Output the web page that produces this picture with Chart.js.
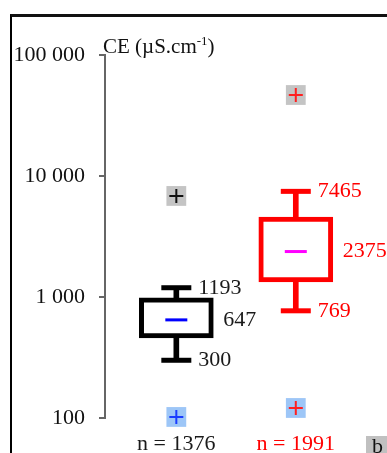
<!DOCTYPE html>
<html>
<head>
<meta charset="utf-8">
<script src="https://cdn.jsdelivr.net/npm/chart.js@4"></script>
<style>
  body { margin: 0; background: #fff; }
  .wrap { position: relative; width: 387px; height: 453px; overflow: hidden; }
  .frame { position: absolute; left: 10px; top: 14px; width: 400px; height: 460px;
           border-left: 2px solid #000; border-top: 3px solid #111; }
  canvas { position: absolute; left: 0; top: 0; }
  .ytitle { position: absolute; left: 103px; top: 30px; font: 21px "Liberation Serif", serif;
            line-height: 21px; color: #111; white-space: nowrap; }
  .ytitle span { font-size: 13px; vertical-align: 8px; }
  .panel { position: absolute; left: 366px; top: 436px; width: 30px; height: 20px;
           background: #c0c0c0; font: 22px "Liberation Serif", serif; line-height: 20px;
           padding-left: 6px; color: #111; }
</style>
</head>
<body>
<div class="wrap">
  <div class="frame"></div>
  <canvas class="js-chart" width="387" height="453"></canvas>
  <div class="ytitle">CE (µS.cm<span>-1</span>)</div>
  <div class="panel">b</div>
</div>
<script>
const ctx = document.querySelector('.js-chart').getContext('2d');
const FONT = '"Liberation Serif", serif';

const groups = ['n = 1376', 'n = 1991'];
const groupX = [1, 2];
const mins = [300, 769];
const q1s = [458, 1330];
const medians = [647, 2375];
const q3s = [982, 4585];
const maxs = [1193, 7465];
const highOutliers = [6840, 46700];
const lowOutliers = [102, 121];
const yTicks = [100, 1000, 10000, 100000];

const groupColors = ['#000000', '#ff0000'];
const labelColors = ['#1a1a1a', '#ff0000'];
const medianColors = ['#0000ff', '#ff00ff'];

function points(values) {
    return values.map((y, i) => ({ x: groupX[i], y }));
}

function formatTick(v) {
    return String(v).replace(/\B(?=(\d{3})+(?!\d))/g, ' ');
}

const valueLabels = {
    id: 'valueLabels',
    afterDatasetsDraw(chart) {
        const { x, y } = chart.scales;
        const c = chart.ctx;
        c.save();
        c.font = '22px ' + FONT;
        c.textAlign = 'left';
        c.textBaseline = 'middle';
        groupX.forEach((gx, i) => {
            const px = x.getPixelForValue(gx);
            c.fillStyle = labelColors[i];
            c.fillText(maxs[i], px + 22, y.getPixelForValue(maxs[i]));
            c.fillText(medians[i], px + 47, y.getPixelForValue(medians[i]));
            c.fillText(mins[i], px + 22, y.getPixelForValue(mins[i]));
        });
        c.restore();
    }
};

new Chart(ctx, {
    type: 'bar',
    data: {
        datasets: [
            {
                type: 'line', showLine: false, order: 1, clip: false,
                data: points(highOutliers).concat(points(lowOutliers)),
                pointStyle: 'cross', pointRadius: 7, pointBorderWidth: 2,
                pointBorderColor: ['#111111', '#ff2020', '#1a3cff', '#ff2020'],
            },
            {
                type: 'line', showLine: false, order: 2, clip: false,
                data: points(highOutliers).concat(points(lowOutliers)),
                pointStyle: 'rect', pointRadius: 14, pointBorderWidth: 0,
                pointBackgroundColor: ['#c4c4c4', '#c4c4c4', '#9dc6f7', '#9dc6f7'],
            },
            {
                type: 'line', showLine: false, order: 3, clip: false,
                data: points(medians),
                pointStyle: 'line', pointRadius: 11, pointBorderWidth: 3,
                pointBorderColor: medianColors,
            },
            {
                type: 'line', showLine: false, order: 4, clip: false,
                data: points(maxs).concat(points(mins)),
                pointStyle: 'line', pointRadius: 15, pointBorderWidth: 5,
                pointBorderColor: groupColors.concat(groupColors),
            },
            {
                order: 5, grouped: false, clip: false,
                data: q1s.map((q, i) => ({ x: groupX[i], y: [q, q3s[i]] })),
                backgroundColor: '#ffffff', borderColor: groupColors,
                borderWidth: 5, borderSkipped: false, barThickness: 74,
            },
            {
                order: 6, grouped: false, clip: false,
                data: q3s.map((q, i) => ({ x: groupX[i], y: [q, maxs[i]] }))
                    .concat(q1s.map((q, i) => ({ x: groupX[i], y: [mins[i], q] }))),
                backgroundColor: groupColors.concat(groupColors),
                borderWidth: 0, barThickness: 5,
            },
        ]
    },
    options: {
        responsive: false,
        animation: false,
        layout: { padding: { top: 55, left: 0, right: 0, bottom: 0 } },
        plugins: { legend: { display: false }, tooltip: { enabled: false } },
        scales: {
            x: {
                type: 'linear', min: 0.403, max: 2.596, offset: false,
                grid: { display: false }, border: { display: false },
                afterBuildTicks(scale) { scale.ticks = groupX.map(value => ({ value })); },
                afterFit(scale) { scale.height = 35; },
                ticks: {
                    autoSkip: false, maxRotation: 0, padding: 5,
                    font: { family: FONT, size: 22 },
                    color: (c) => labelColors[c.index],
                    callback(value, index) { return groups[index]; }
                }
            },
            y: {
                type: 'logarithmic', min: 100, max: 100000,
                afterBuildTicks(scale) { scale.ticks = yTicks.map(value => ({ value })); },
                afterFit(scale) { scale.width = 105; },
                grid: { drawOnChartArea: false, tickLength: 6, color: '#666', lineWidth: 2 },
                border: { color: '#666', width: 2 },
                ticks: {
                    autoSkip: false, padding: 14,
                    font: { family: FONT, size: 22 }, color: '#111',
                    callback(value) { return formatTick(value); }
                }
            }
        }
    },
    plugins: [valueLabels]
});
</script>
</body>
</html>
